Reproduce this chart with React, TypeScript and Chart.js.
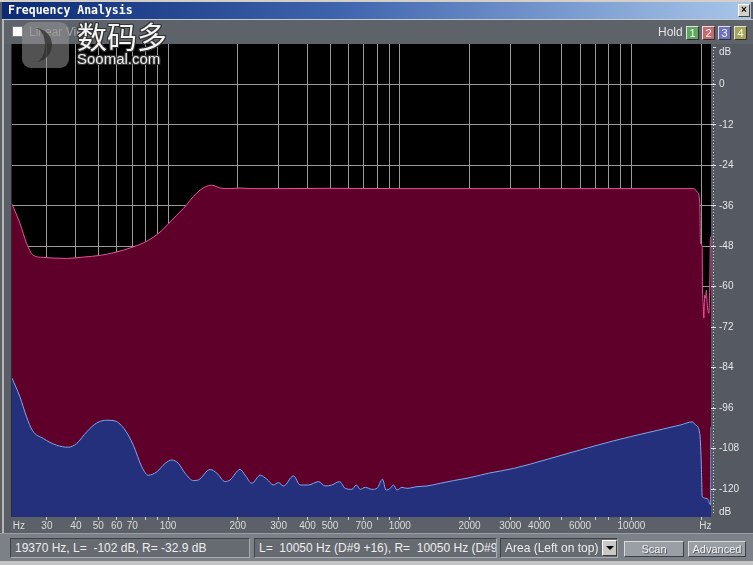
import React, { useEffect, useRef } from "react";
import { Chart, registerables } from "chart.js";
Chart.register(...registerables);

// Left channel (blue, drawn on top)
const freqL = [21.2, 22.95, 24.5, 26.0, 28.9, 33.0, 37.1, 40.3, 44.6, 49.2, 54.4, 59.0, 65.2, 70.8, 77.0, 82.2, 89.4, 97.1, 103.8, 110.8, 118.4, 128.6, 135.2, 151.9, 162.4, 176.3, 185.2, 204.6, 215.1, 229.9, 249.7, 267.0, 285.0, 299.6, 314.9, 347.8, 371.7, 403.6, 445.9, 476.8, 509.5, 549.5, 581.6, 621.6, 648.9, 675.2, 709.6, 758.4, 797.0, 842.7, 871.7, 910.0, 940.2, 972.5, 1022, 1074, 1187, 1311, 1496, 1708, 1951, 2227, 2419, 3101, 4324, 6022, 8387, 11690, 16280, 18290, 18910, 19720, 20000, 20210, 21230, 21940, 22050];
const dbL = [-87.1, -92.7, -98.6, -102.7, -105.0, -107.0, -107.6, -106.5, -103.0, -100.4, -99.6, -99.8, -102.5, -107.0, -113.4, -115.9, -114.9, -112.4, -111.4, -112.4, -115.3, -117.5, -117.3, -114.2, -115.3, -117.8, -117.3, -114.2, -115.9, -118.3, -115.9, -117.1, -118.8, -118.1, -119.1, -116.1, -118.8, -118.8, -117.8, -119.1, -118.8, -117.8, -119.8, -120.1, -118.8, -120.1, -119.5, -120.1, -119.8, -117.1, -120.3, -119.8, -118.8, -120.3, -119.5, -119.8, -119.3, -119.1, -118.3, -117.5, -116.8, -115.9, -115.3, -113.9, -111.2, -108.4, -105.7, -103.3, -101.0, -100.1, -101.0, -103.5, -111.4, -122.3, -122.8, -124.7, -101.6];

// Right channel (red, behind)
const freqR = [21.2, 22.95, 24.5, 26.2, 28.9, 36.5, 43.1, 50.8, 60.0, 70.6, 80.9, 92.3, 102, 116.4, 133, 144.5, 154.5, 167.8, 185.2, 204.6, 226, 300, 500, 1000, 2000, 5000, 10000, 18580, 19220, 19720, 19870, 20210, 20250, 20400, 20530, 20700, 20880, 21050, 21230, 21570, 21800, 21940, 22050];
const dbR = [-35.5, -41.2, -47.1, -50.7, -51.3, -51.6, -51.2, -50.7, -49.7, -48.2, -46.5, -43.8, -40.8, -36.8, -32.2, -30.4, -29.9, -30.7, -30.9, -30.7, -30.9, -30.9, -30.8, -30.9, -30.9, -30.9, -30.9, -30.9, -31.9, -34.9, -47.2, -48.2, -60.1, -64.9, -69.3, -62.5, -63.4, -61.0, -64.9, -67.9, -58.0, -45.2, -45.5];

// Axes
const gridFreqs = [30, 40, 50, 60, 70, 80, 90, 100, 200, 300, 400, 500, 600, 700, 800, 900, 1000, 2000, 3000, 4000, 5000, 6000, 7000, 8000, 9000, 10000, 20000];
const labeledFreqs = [30, 40, 50, 60, 70, 100, 200, 300, 400, 500, 700, 1000, 2000, 3000, 4000, 6000, 10000];
const hzUnitTicks = [22.7, 20870];
const dbTicks = [0, -12, -24, -36, -48, -60, -72, -84, -96, -108, -120];
const dbUnitTicks = [9.5, -126.8];
const X_MIN = 21.2;
const X_MAX = 22050;
const Y_MIN = -128.3;
const Y_MAX = 12;

const sans = "'Liberation Sans', Arial, sans-serif";

export default function App() {
  const ref = useRef<HTMLCanvasElement | null>(null);

  useEffect(() => {
    const canvas = ref.current;
    if (!canvas) return;
    const bgPlugin = {
      id: "plotBg",
      beforeDraw(chart: any) {
        const { ctx, chartArea } = chart;
        ctx.save();
        ctx.fillStyle = "#000000";
        ctx.fillRect(chartArea.left, chartArea.top, chartArea.right - chartArea.left, chartArea.bottom - chartArea.top);
        ctx.restore();
      },
      afterDraw(chart: any) {
        const { ctx, chartArea } = chart;
        ctx.save();
        ctx.strokeStyle = "#d8d8d8";
        ctx.lineWidth = 1;
        ctx.setLineDash([1, 2]);
        ctx.beginPath();
        ctx.moveTo(chartArea.right + 2.5, chartArea.top + 3);
        ctx.lineTo(chartArea.right + 2.5, chartArea.bottom - 2);
        ctx.stroke();
        ctx.setLineDash([]);
        ctx.beginPath();
        ctx.moveTo(chartArea.right + 2, chartArea.top + 3.5);
        ctx.lineTo(chartArea.right + 5, chartArea.top + 3.5);
        ctx.stroke();
        ctx.restore();
      },
    };
    const isHz = (v: number) => hzUnitTicks.includes(v);
    const isDbUnit = (v: number) => dbUnitTicks.includes(v);
    const chart = new Chart(canvas, {
      type: "line",
      data: {
        datasets: [
          {
            label: "L",
            data: freqL.map((f, i) => ({ x: f, y: dbL[i] })),
            borderColor: "#78a8ee",
            backgroundColor: "#25307c",
            borderWidth: 1,
            pointRadius: 0,
            fill: "start",
            cubicInterpolationMode: "monotone",
          },
          {
            label: "R",
            data: freqR.map((f, i) => ({ x: f, y: dbR[i] })),
            borderColor: "#e8509a",
            backgroundColor: "#5f002b",
            borderWidth: 1,
            pointRadius: 0,
            fill: "start",
            cubicInterpolationMode: "monotone",
          },
        ],
      },
      options: {
        animation: false,
        responsive: false,
        devicePixelRatio: 1,
        layout: { padding: { left: 12, top: 44, right: 0, bottom: 0 } },
        plugins: { legend: { display: false }, tooltip: { enabled: false } },
        events: [],
        scales: {
          x: {
            type: "logarithmic",
            position: "bottom",
            min: X_MIN,
            max: X_MAX,
            afterBuildTicks: (scale: any) => {
              scale.ticks = [...hzUnitTicks.slice(0, 1), ...gridFreqs, ...hzUnitTicks.slice(1)].map((v) => ({ value: v }));
            },
            afterFit: (scale: any) => {
              scale.height = 48;
            },
            border: { display: false },
            grid: {
              color: (c: any) => (c.tick && isHz(c.tick.value) ? "rgba(0,0,0,0)" : "#9a9a9a"),
              tickColor: (c: any) => (c.tick && isHz(c.tick.value) ? "rgba(0,0,0,0)" : "#d0d0d0"),
              lineWidth: 1,
              drawTicks: true,
              tickLength: 3,
            },
            ticks: {
              autoSkip: false,
              maxRotation: 0,
              minRotation: 0,
              padding: 0,
              color: "#dcdcdc",
              font: { family: sans, size: 10 },
              callback: (value: any) => {
                const v = Number(value);
                if (isHz(v)) return "Hz";
                return labeledFreqs.includes(v) ? String(v) : "";
              },
            },
          },
          y: {
            type: "linear",
            position: "right",
            min: Y_MIN,
            max: Y_MAX,
            afterBuildTicks: (scale: any) => {
              scale.ticks = [dbUnitTicks[0], ...dbTicks, dbUnitTicks[1]].map((v) => ({ value: v }));
            },
            afterFit: (scale: any) => {
              scale.width = 42;
            },
            border: { display: false },
            grid: {
              color: (c: any) => (c.tick && isDbUnit(c.tick.value) ? "rgba(0,0,0,0)" : "#9a9a9a"),
              tickColor: (c: any) => (c.tick && isDbUnit(c.tick.value) ? "rgba(0,0,0,0)" : "#e0e0e0"),
              lineWidth: 1,
              drawTicks: true,
              tickLength: 5,
            },
            ticks: {
              padding: 3,
              color: "#e6e6e6",
              font: { family: sans, size: 10 },
              callback: (value: any) => {
                const v = Number(value);
                if (isDbUnit(v)) return "dB";
                return String(v);
              },
            },
          },
        },
      },
      plugins: [bgPlugin],
    } as any);
    return () => chart.destroy();
  }, []);

  const box = (left: number, width: number, text: string) => (
    <div
      style={{
        position: "absolute",
        left,
        top: 538,
        width,
        height: 20,
        boxSizing: "border-box",
        background: "#666a71",
        borderTop: "1px solid #3e4147",
        borderLeft: "1px solid #3e4147",
        borderBottom: "1px solid #a9acb1",
        borderRight: "1px solid #a9acb1",
        color: "#eeeeee",
        font: `12px ${sans}`,
        lineHeight: "18px",
        paddingLeft: 4,
        whiteSpace: "pre",
        overflow: "hidden",
      }}
    >
      {text}
    </div>
  );

  const btn = (left: number, width: number, text: string) => (
    <div
      style={{
        position: "absolute",
        left,
        top: 541,
        width,
        height: 16,
        boxSizing: "border-box",
        background: "#9a9ea5",
        borderTop: "1px solid #d8dade",
        borderLeft: "1px solid #d8dade",
        borderBottom: "1px solid #3c3f44",
        borderRight: "1px solid #3c3f44",
        color: "#f4f4f4",
        font: `11px ${sans}`,
        lineHeight: "14px",
        textAlign: "center",
        textShadow: "1px 1px 0 #55585e",
      }}
    >
      {text}
    </div>
  );

  const holdBtn = (left: number, bg: string, text: string) => (
    <div
      style={{
        position: "absolute",
        left,
        top: 26,
        width: 13,
        height: 14,
        boxSizing: "border-box",
        background: bg,
        borderTop: "1px solid #e0e0e0",
        borderLeft: "1px solid #e0e0e0",
        borderBottom: "1px solid #303030",
        borderRight: "1px solid #303030",
        color: "#f6f6f6",
        font: `11px ${sans}`,
        lineHeight: "12px",
        textAlign: "center",
      }}
    >
      {text}
    </div>
  );

  const outline = "1px 0 0 #333, -1px 0 0 #333, 0 1px 0 #333, 0 -1px 0 #333, 1px 1px 0 #333, -1px -1px 0 #333, 1px -1px 0 #333, -1px 1px 0 #333";

  return (
    <div style={{ position: "absolute", left: 0, top: 0, width: 753, height: 565, overflow: "hidden", background: "#5a5e66" }}>
      {/* window frame */}
      <div style={{ position: "absolute", left: 0, top: 0, width: 753, height: 2, background: "#d4d0c8" }} />
      <div style={{ position: "absolute", left: 2, top: 20, width: 2, height: 540, background: "#b8b6b0" }} />
      {/* right axis strip & x label strip */}
      <div style={{ position: "absolute", left: 711, top: 44, width: 42, height: 489, background: "#555961" }} />
      <div style={{ position: "absolute", left: 11, top: 517, width: 700, height: 16, background: "#5c6068" }} />
      <div style={{ position: "absolute", left: 11, top: 44, width: 1, height: 473, background: "#2a2c30" }} />
      {/* status bar */}
      <div style={{ position: "absolute", left: 0, top: 533, width: 753, height: 28, background: "#7c8087", borderTop: "1px solid #9a9da2" }} />
      <div style={{ position: "absolute", left: 0, top: 561, width: 753, height: 4, background: "#c4c4c4" }} />

      <canvas ref={ref} width={753} height={565} style={{ position: "absolute", left: 0, top: 0, width: 753, height: 565 }} />

      {/* title bar */}
      <div
        style={{
          position: "absolute",
          left: 2,
          top: 2,
          width: 749,
          height: 17,
          background: "linear-gradient(to right, #0c2a74 0%, #3f64ae 45%, #a9c6ea 100%)",
        }}
      />
      <div
        style={{
          position: "absolute",
          left: 8,
          top: 3,
          color: "#ffffff",
          font: `bold 11.5px 'DejaVu Sans Mono', monospace`,
          lineHeight: "15px",
          whiteSpace: "pre",
        }}
      >
        Frequency Analysis
      </div>
      <div
        style={{
          position: "absolute",
          left: 738,
          top: 4,
          width: 12,
          height: 13,
          boxSizing: "border-box",
          background: "#d4d0c8",
          borderTop: "1px solid #ffffff",
          borderLeft: "1px solid #ffffff",
          borderBottom: "1px solid #404040",
          borderRight: "1px solid #404040",
          color: "#000",
          font: `bold 10px ${sans}`,
          lineHeight: "10px",
          textAlign: "center",
        }}
      >
        ×
      </div>
      <div style={{ position: "absolute", left: 2, top: 19, width: 751, height: 1, background: "#c8ccd2" }} />

      {/* toolbar */}
      <div style={{ position: "absolute", left: 4, top: 20, width: 749, height: 24, background: "#5e6269" }} />
      <div
        style={{
          position: "absolute",
          left: 12,
          top: 26,
          width: 11,
          height: 11,
          boxSizing: "border-box",
          background: "#ffffff",
          border: "1px solid #7a7a7a",
        }}
      />
      <div style={{ position: "absolute", left: 29, top: 25, color: "#a4a6aa", font: `12px ${sans}`, lineHeight: "14px", whiteSpace: "pre" }}>
        Linear View
      </div>
      <div style={{ position: "absolute", left: 658, top: 25, color: "#e4e4e4", font: `12px ${sans}`, lineHeight: "15px" }}>Hold</div>
      {holdBtn(686, "#5fa85f", "1")}
      {holdBtn(702, "#c46a6e", "2")}
      {holdBtn(718, "#6f70c4", "3")}
      {holdBtn(734, "#a6a65a", "4")}

      {/* watermark */}
      <div
        style={{
          position: "absolute",
          left: 22,
          top: 22,
          width: 47,
          height: 46,
          borderRadius: 9,
          background: "rgba(150,150,150,0.55)",
          overflow: "hidden",
        }}
      >
        <div
          style={{
            position: "absolute",
            left: 4,
            top: 6,
            width: 26,
            height: 34,
            borderRadius: "0 20px 20px 0",
            borderRight: "7px solid rgba(45,45,45,0.75)",
            boxSizing: "border-box",
          }}
        />
      </div>
      <div
        style={{
          position: "absolute",
          left: 77,
          top: 17,
          color: "#f4f4f4",
          font: `30px 'Noto Sans CJK SC', sans-serif`,
          lineHeight: "36px",
          textShadow: outline,
          whiteSpace: "pre",
        }}
      >
        数码多
      </div>
      <div
        style={{
          position: "absolute",
          left: 77,
          top: 50,
          color: "#f0f0f0",
          font: `15px ${sans}`,
          lineHeight: "17px",
          textShadow: outline,
          whiteSpace: "pre",
        }}
      >
        Soomal.com
      </div>

      {/* status boxes */}
      {box(10, 240, "19370 Hz, L=  -102 dB, R= -32.9 dB")}
      {box(254, 243, "L=  10050 Hz (D#9 +16), R=  10050 Hz (D#9 +16)")}
      {box(500, 118, "Area (Left on top)")}
      <div
        style={{
          position: "absolute",
          left: 602,
          top: 540,
          width: 15,
          height: 16,
          boxSizing: "border-box",
          background: "#c8c8c8",
          borderTop: "1px solid #ffffff",
          borderLeft: "1px solid #ffffff",
          borderBottom: "1px solid #404040",
          borderRight: "1px solid #404040",
        }}
      >
        <div
          style={{
            position: "absolute",
            left: 3,
            top: 5,
            width: 0,
            height: 0,
            borderLeft: "4px solid transparent",
            borderRight: "4px solid transparent",
            borderTop: "4px solid #000",
          }}
        />
      </div>
      {btn(624, 60, "Scan")}
      {btn(688, 58, "Advanced")}
    </div>
  );
}
